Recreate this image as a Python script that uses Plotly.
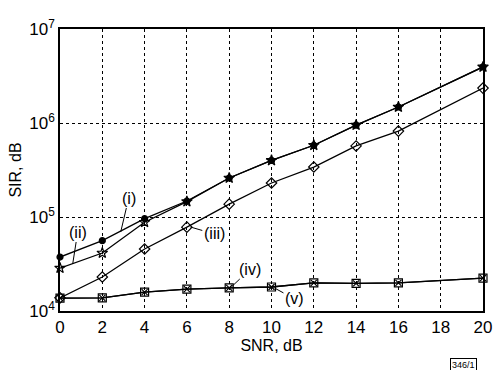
import plotly.graph_objects as go

snr = [0, 2, 4, 6, 8, 10, 12, 14, 16, 20]
sir_i = [3.75e4, 5.6e4, 9.6e4, 1.48e5, 2.6e5, 4.0e5, 5.8e5, 9.5e5, 1.48e6, 3.95e6]
sir_ii = [2.86e4, 4.14e4, 8.8e4, 1.46e5, 2.6e5, 4.0e5, 5.8e5, 9.5e5, 1.48e6, 3.95e6]
sir_iii = [1.38e4, 2.3e4, 4.57e4, 7.8e4, 1.37e5, 2.3e5, 3.4e5, 5.7e5, 8.2e5, 2.35e6]
sir_iv = [1.37e4, 1.38e4, 1.59e4, 1.71e4, 1.76e4, 1.80e4, 1.99e4, 1.97e4, 1.99e4, 2.24e4]
sir_v = [1.37e4, 1.38e4, 1.59e4, 1.71e4, 1.76e4, 1.80e4, 1.99e4, 1.97e4, 1.99e4, 2.24e4]

x_ticks = [0, 2, 4, 6, 8, 10, 12, 14, 16, 18, 20]
y_ticks = [1e4, 1e5, 1e6, 1e7]
y_ticktext = ["10<sup>4</sup>", "10<sup>5</sup>", "10<sup>6</sup>", "10<sup>7</sup>"]

FONT = "Liberation Sans, Arial, sans-serif"
fig = go.Figure()

def add(y, symbol, size):
    fig.add_trace(go.Scatter(
        x=snr, y=y, mode="lines+markers",
        line=dict(color="black", width=1.3),
        marker=dict(symbol=symbol, size=size, color="black",
                    line=dict(color="black", width=1.2)),
        showlegend=False, cliponaxis=False))

add(sir_i, "circle", 6)
add(sir_ii, "star-open", 8)
add(sir_iii, "diamond-open", 8)
add(sir_iv, "square-open", 8)
add(sir_v, "x-thin-open", 6)

# (label, x, log10(y) of arrow tip, text offset px)
labels = [
    ("(i)", 2.87, 4.84, 8, -34),
    ("(ii)", 0.6, 4.5, 5, -32),
    ("(iii)", 6.16, 4.894, 24, 7),
    ("(iv)", 8.1, 4.255, 19, -18),
    ("(v)", 10.14, 4.245, 20, 11),
]
for t, x, ly, ax, ay in labels:
    fig.add_annotation(x=x, y=ly, xref="x", yref="y", text=t, showarrow=True,
                       arrowhead=0, arrowwidth=1, arrowcolor="black",
                       ax=ax, ay=ay, font=dict(family=FONT, size=16, color="black"))

fig.add_annotation(x=0.955, y=-0.19, xref="paper", yref="paper", text="346/1",
                   xanchor="center", yanchor="middle",
                   showarrow=False, font=dict(family=FONT, size=9, color="black"),
                   bordercolor="black", borderwidth=1, borderpad=1)

fig.update_layout(
    width=500, height=370,
    margin=dict(l=60, r=8, t=29, b=59),
    paper_bgcolor="white", plot_bgcolor="white",
    font=dict(family=FONT, size=17, color="black"),
    xaxis=dict(range=[0, 20], tickvals=x_ticks, ticktext=[str(v) for v in x_ticks],
               showgrid=True, gridcolor="black", gridwidth=1, griddash="3px,3px",
               showline=True, linecolor="black", linewidth=1.5, mirror=True,
               ticks="", zeroline=False, tickfont=dict(size=17),
               title=dict(text="SNR, dB", font=dict(size=16), standoff=0)),
    yaxis=dict(type="log", range=[4, 7], tickvals=y_ticks, ticktext=y_ticktext,
               showgrid=True, gridcolor="black", gridwidth=1, griddash="3px,3px",
               showline=True, linecolor="black", linewidth=1.5, mirror=True,
               ticks="", zeroline=False, tickfont=dict(size=17),
               title=dict(text="SIR, dB", font=dict(size=16), standoff=4)),
)
fig.write_html("out.html")
